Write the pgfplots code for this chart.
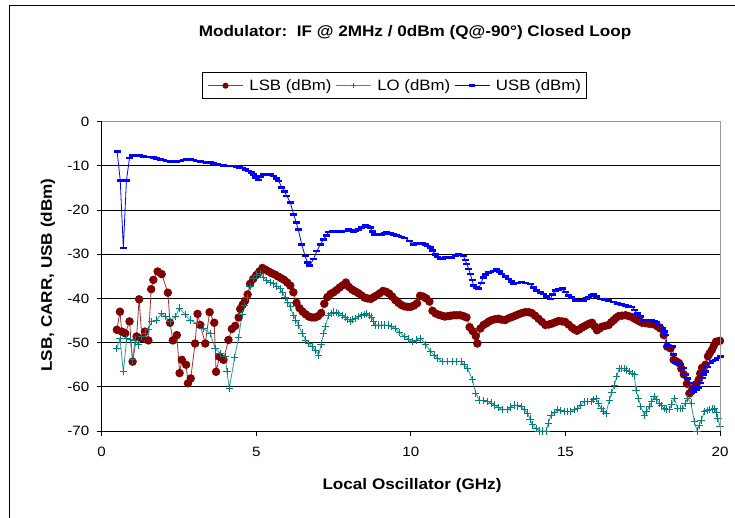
\documentclass[border=0pt]{standalone}
\usepackage{pgfplots}
\pgfplotsset{compat=1.18}
\usepackage{fontspec}
\setmainfont[FakeStretch=1.12]{Liberation Sans}
\definecolor{lsb}{RGB}{128,0,0}
\definecolor{lsbline}{RGB}{160,48,48}
\definecolor{lo}{RGB}{0,128,128}
\definecolor{loline}{RGB}{50,150,150}
\definecolor{usb}{RGB}{0,0,255}
\definecolor{pframe}{RGB}{150,150,150}

\pgfplotstableread{
x y
0.49 -47.1
0.59 -43.0
0.65 -47.5
0.76 -47.9
0.90 -45.2
1.00 -54.3
1.13 -48.6
1.21 -40.2
1.30 -49.0
1.40 -47.5
1.51 -49.5
1.60 -37.9
1.67 -35.8
1.81 -33.9
1.94 -34.5
2.14 -38.7
2.21 -45.5
2.30 -49.5
2.43 -48.3
2.52 -56.9
2.59 -53.9
2.73 -55.0
2.79 -59.2
2.88 -58.1
3.02 -50.2
3.10 -43.5
3.19 -46.0
3.35 -50.2
3.49 -43.1
3.64 -45.5
3.70 -56.6
3.81 -53.2
3.94 -53.9
4.10 -49.4
4.21 -46.9
4.32 -46.2
4.43 -44.3
4.48 -42.4
4.56 -41.4
4.64 -40.5
4.72 -39.1
4.80 -36.7
4.90 -35.6
5.00 -34.7
5.10 -33.9
5.20 -33.1
5.30 -33.5
5.40 -33.9
5.50 -34.3
5.60 -34.6
5.70 -35.0
5.80 -35.4
5.90 -35.8
6.00 -36.4
6.10 -37.1
6.20 -38.6
6.30 -41.0
6.40 -42.2
6.50 -43.0
6.60 -43.6
6.70 -44.1
6.80 -44.3
6.90 -44.3
7.00 -44.0
7.10 -43.3
7.20 -41.2
7.30 -39.7
7.40 -39.0
7.50 -38.6
7.60 -38.1
7.70 -37.5
7.80 -37.0
7.90 -36.4
8.00 -37.4
8.10 -38.0
8.20 -38.4
8.30 -38.8
8.40 -39.3
8.50 -39.8
8.60 -40.0
8.70 -40.1
8.80 -39.7
8.90 -39.3
9.00 -38.8
9.10 -38.3
9.20 -38.5
9.30 -38.9
9.40 -39.6
9.50 -40.4
9.60 -41.0
9.70 -41.5
9.80 -41.8
9.90 -41.9
10.00 -41.9
10.10 -41.6
10.20 -41.1
10.30 -39.4
10.40 -39.6
10.50 -40.0
10.60 -40.7
10.70 -42.8
10.80 -43.4
10.90 -43.7
11.00 -43.9
11.10 -44.1
11.20 -44.0
11.30 -43.9
11.40 -43.8
11.50 -43.8
11.60 -43.8
11.70 -44.0
11.80 -44.3
11.90 -46.5
12.00 -47.4
12.10 -48.5
12.15 -50.2
12.25 -46.8
12.35 -46.0
12.45 -45.6
12.53 -45.2
12.62 -44.9
12.72 -44.7
12.83 -44.6
12.94 -44.8
13.05 -44.9
13.16 -44.5
13.27 -44.2
13.38 -43.9
13.48 -43.6
13.59 -43.3
13.70 -43.1
13.81 -43.1
13.91 -43.3
14.02 -43.9
14.13 -44.6
14.24 -45.3
14.35 -46.0
14.46 -45.9
14.56 -45.7
14.67 -45.4
14.78 -45.1
14.89 -45.2
14.99 -45.3
15.10 -45.9
15.21 -46.6
15.29 -47.0
15.37 -47.3
15.45 -47.0
15.53 -46.6
15.61 -46.3
15.69 -46.0
15.78 -45.7
15.86 -45.5
15.94 -46.3
16.02 -47.2
16.10 -46.8
16.18 -46.4
16.29 -46.2
16.40 -46.0
16.48 -45.4
16.56 -44.9
16.64 -44.4
16.72 -44.0
16.83 -43.9
16.94 -43.8
17.05 -44.0
17.15 -44.2
17.24 -44.6
17.32 -44.9
17.40 -45.2
17.48 -45.5
17.59 -45.6
17.69 -45.7
17.80 -45.8
17.91 -46.0
17.99 -46.4
18.07 -46.8
18.18 -48.3
18.29 -50.9
18.40 -51.3
18.50 -53.9
18.58 -54.2
18.67 -54.6
18.75 -55.9
18.83 -57.2
18.93 -59.3
19.01 -61.5
19.08 -61.0
19.15 -60.4
19.23 -59.4
19.31 -58.4
19.36 -57.0
19.42 -55.7
19.53 -55.0
19.61 -53.1
19.67 -52.4
19.74 -51.6
19.80 -50.7
19.87 -49.8
19.94 -49.7
20.00 -49.6
}\lsbdata

\pgfplotstableread{
x y
0.49 -51.3
0.59 -49.0
0.70 -56.6
0.81 -49.0
0.92 -49.2
1.00 -53.9
1.08 -49.4
1.19 -50.5
1.30 -48.6
1.40 -47.9
1.51 -47.0
1.62 -45.2
1.78 -44.9
1.94 -43.4
2.05 -44.1
2.21 -45.2
2.38 -44.1
2.52 -42.2
2.70 -43.7
2.86 -44.9
3.08 -45.6
3.29 -46.8
3.51 -47.9
3.67 -51.3
3.83 -52.4
4.00 -53.2
4.05 -56.6
4.13 -60.3
4.30 -53.3
4.43 -48.8
4.54 -43.5
4.62 -41.6
4.70 -39.8
4.80 -37.3
4.90 -35.5
5.02 -34.7
5.12 -34.3
5.23 -35.2
5.34 -36.0
5.45 -36.4
5.55 -36.7
5.66 -37.2
5.77 -37.8
5.85 -38.7
5.93 -39.7
6.02 -40.8
6.10 -41.9
6.20 -43.8
6.28 -44.9
6.36 -46.0
6.48 -47.8
6.59 -49.4
6.70 -50.2
6.81 -50.9
6.92 -51.8
7.02 -52.8
7.10 -50.3
7.18 -47.9
7.23 -46.4
7.34 -43.8
7.42 -43.4
7.50 -43.1
7.58 -43.2
7.66 -43.4
7.77 -43.8
7.87 -44.2
7.96 -44.7
8.04 -45.1
8.12 -44.8
8.20 -44.6
8.31 -44.1
8.41 -43.8
8.49 -43.6
8.57 -43.4
8.65 -43.8
8.73 -44.2
8.79 -45.1
8.84 -46.0
8.95 -46.0
9.06 -46.0
9.16 -46.0
9.27 -46.0
9.38 -46.4
9.49 -46.8
9.64 -47.7
9.78 -48.6
9.92 -49.2
10.05 -49.8
10.18 -49.4
10.32 -49.0
10.48 -50.5
10.64 -52.0
10.75 -52.8
10.86 -53.5
11.02 -54.3
11.18 -54.3
11.34 -54.3
11.48 -54.3
11.62 -54.3
11.72 -55.0
11.83 -55.8
11.99 -58.4
12.10 -61.5
12.21 -63.0
12.34 -63.1
12.48 -63.3
12.59 -63.7
12.70 -64.1
12.84 -64.7
12.97 -65.2
13.12 -65.2
13.23 -64.6
13.34 -64.1
13.45 -64.3
13.56 -64.5
13.67 -65.2
13.77 -66.0
13.86 -67.3
13.93 -68.6
14.05 -69.4
14.15 -70.0
14.26 -70.0
14.37 -70.0
14.45 -68.2
14.53 -66.4
14.64 -65.8
14.74 -65.2
14.85 -65.4
14.96 -65.6
15.07 -65.6
15.17 -65.6
15.28 -65.2
15.39 -64.9
15.50 -64.1
15.61 -63.3
15.72 -63.3
15.83 -63.3
15.91 -62.9
15.99 -62.6
16.07 -63.8
16.15 -64.9
16.23 -65.5
16.31 -66.0
16.42 -63.0
16.50 -61.3
16.58 -59.6
16.66 -57.7
16.74 -55.8
16.82 -55.8
16.90 -55.8
16.98 -56.2
17.07 -56.6
17.15 -57.0
17.23 -57.3
17.28 -60.7
17.36 -62.6
17.44 -64.5
17.55 -66.4
17.63 -65.5
17.71 -64.5
17.79 -63.4
17.87 -62.2
17.95 -62.9
18.04 -63.7
18.12 -64.3
18.20 -64.9
18.28 -65.0
18.36 -65.2
18.44 -63.9
18.52 -62.6
18.63 -64.9
18.71 -64.9
18.79 -64.9
18.87 -63.8
18.95 -62.6
19.06 -63.7
19.17 -67.9
19.26 -70.0
19.32 -68.8
19.39 -67.5
19.50 -65.6
19.58 -65.4
19.66 -65.2
19.74 -65.0
19.82 -64.9
19.88 -65.9
19.93 -67.1
20.00 -69.0
}\lodata

\pgfplotstableread{
x y
0.50 -6.8
0.60 -13.3
0.70 -28.6
0.80 -13.3
0.90 -8.2
1.00 -7.7
1.12 -7.6
1.23 -7.7
1.35 -7.9
1.51 -8.0
1.67 -8.1
1.78 -8.3
1.89 -8.5
2.00 -8.7
2.10 -8.9
2.21 -9.0
2.32 -9.0
2.43 -9.0
2.54 -8.9
2.65 -8.7
2.75 -8.5
2.86 -8.6
2.97 -8.7
3.08 -8.9
3.18 -9.0
3.29 -9.1
3.40 -9.2
3.51 -9.3
3.62 -9.4
3.73 -9.6
3.83 -9.8
3.94 -9.9
4.05 -10.0
4.16 -10.0
4.27 -10.0
4.36 -10.1
4.45 -10.3
4.55 -10.5
4.64 -10.8
4.75 -11.2
4.83 -11.5
4.91 -11.9
4.99 -12.6
5.07 -13.2
5.15 -12.4
5.24 -11.9
5.35 -11.9
5.45 -12.0
5.55 -12.3
5.64 -12.8
5.72 -13.4
5.83 -14.9
5.91 -15.8
5.99 -16.8
6.10 -18.3
6.21 -21.0
6.29 -22.8
6.36 -24.4
6.47 -27.8
6.58 -30.4
6.65 -31.8
6.72 -32.6
6.85 -31.1
6.96 -29.3
7.07 -27.8
7.18 -26.6
7.26 -25.8
7.34 -25.0
7.45 -24.9
7.55 -24.8
7.66 -24.9
7.77 -25.0
7.88 -24.7
7.98 -24.4
8.06 -24.6
8.14 -24.8
8.22 -24.6
8.30 -24.4
8.41 -23.9
8.52 -23.5
8.60 -23.7
8.68 -24.0
8.76 -24.8
8.84 -25.5
8.95 -25.5
9.06 -25.5
9.14 -25.3
9.22 -25.1
9.33 -25.3
9.44 -25.5
9.52 -25.7
9.60 -25.9
9.70 -26.1
9.81 -26.3
9.95 -27.0
10.08 -27.8
10.19 -27.6
10.30 -27.5
10.38 -27.6
10.46 -27.8
10.54 -28.1
10.62 -28.5
10.70 -29.2
10.79 -30.0
10.87 -30.6
10.95 -31.1
11.03 -30.9
11.11 -30.7
11.22 -30.7
11.33 -30.7
11.43 -30.3
11.54 -30.0
11.62 -30.2
11.70 -30.4
11.76 -31.3
11.81 -32.2
11.87 -33.3
11.92 -34.5
11.98 -35.8
12.03 -37.1
12.11 -37.5
12.19 -37.8
12.27 -36.5
12.35 -35.2
12.43 -34.6
12.51 -34.1
12.59 -34.0
12.67 -33.8
12.78 -33.4
12.86 -33.9
12.94 -34.5
13.05 -35.0
13.16 -35.6
13.24 -36.1
13.32 -36.7
13.45 -36.5
13.59 -36.3
13.72 -36.5
13.86 -36.7
13.97 -37.5
14.07 -38.2
14.18 -38.6
14.29 -39.0
14.40 -39.5
14.51 -40.1
14.59 -39.1
14.67 -38.2
14.78 -38.0
14.89 -37.8
15.00 -38.5
15.10 -39.3
15.21 -39.8
15.32 -40.4
15.45 -40.4
15.59 -40.4
15.67 -40.0
15.75 -39.7
15.83 -39.3
15.91 -39.0
16.02 -39.5
16.13 -40.1
16.27 -40.2
16.40 -40.4
16.54 -40.8
16.67 -41.2
16.80 -41.4
16.94 -41.6
17.05 -41.8
17.15 -41.9
17.24 -42.6
17.32 -43.4
17.43 -44.1
17.53 -44.9
17.67 -44.9
17.80 -44.9
17.88 -45.1
17.96 -45.3
18.05 -46.0
18.13 -46.8
18.19 -47.5
18.24 -48.3
18.29 -50.7
18.37 -50.8
18.45 -50.9
18.50 -52.7
18.56 -54.6
18.64 -54.8
18.72 -55.0
18.83 -55.7
18.88 -57.2
18.96 -58.1
19.04 -59.1
19.10 -60.0
19.15 -61.0
19.23 -60.6
19.31 -60.2
19.37 -59.1
19.42 -58.0
19.48 -57.2
19.53 -56.5
19.61 -55.5
19.69 -54.6
19.77 -54.2
19.85 -53.9
19.93 -53.5
20.00 -53.1
}\usbdata

\begin{document}
\begin{tikzpicture}[x=1pt,y=1pt]
\begin{axis}[
  at={(0,0)}, anchor=south west, scale only axis,
  width=618.3pt, height=309.3pt,
  xmin=0, xmax=20, ymin=-70, ymax=0,
  xtick={0,5,10,15,20}, ytick={-70,-60,...,0},
  tick align=outside, major tick length=5pt,
  axis x line*=bottom, axis y line*=left,
  axis line style={black, line width=0.9pt},
  tick style={black, line width=0.9pt},
  ymajorgrids, grid style={black, line width=0.9pt},
  /pgf/number format/assume math mode=true,
  ticklabel style={font=\fontsize{13.5}{16}\selectfont},
  xticklabel style={yshift=-8pt},
  yticklabel style={xshift=-4pt},
  clip=false,
  legend columns=3,
  legend style={at={(0.474,1.1164)}, anchor=center, draw=black, line width=0.9pt,
    font=\fontsize{15}{17}\selectfont, inner xsep=4pt, inner ysep=5pt,
    /tikz/every even column/.append style={column sep=1pt}},
  legend image code/.code={\draw[#1, line width=0.8pt, mark repeat=2, mark phase=2, mark size=2.6pt] plot coordinates {(0pt,0pt) (17.5pt,0pt) (35pt,0pt)};
    \path (-1pt,0pt) (39pt,0pt);},
]
\addplot[color=lsbline, line width=0.8pt, mark=*, mark size=3.8pt, mark options={fill=lsb, draw=lsb, solid}] table {\lsbdata};
\addlegendentry{LSB (dBm)}
\addplot[color=loline, line width=0.8pt, mark=+, mark size=3.7pt, mark options={draw=lo, line width=0.8pt, solid}] table {\lodata};
\addlegendentry{LO (dBm)}
\addplot[color=usb, line width=0.8pt, mark=-, mark size=3.5pt, mark options={line width=2.6pt, solid}] table {\usbdata};
\addlegendentry{USB (dBm)}
\end{axis}
\draw[pframe, line width=0.9pt] (0,309.3) -- (618.3,309.3) -- (618.3,0);
\node[font=\bfseries\fontsize{15.3}{18}\selectfont] at (313.3,398.7) {Modulator:\ \ IF @ 2MHz / 0dBm (Q@-90°) Closed Loop};
\node[font=\bfseries\fontsize{15.3}{18}\selectfont] at (310.3,-55) {Local Oscillator (GHz)};
\node[font=\bfseries\fontsize{15.3}{18}\selectfont, rotate=90] at (-53.7,156) {LSB, CARR, USB (dBm)};
\draw[black, line width=1pt] (-91.7,-87) -- (-91.7,425) -- (633.3,425);
\pgfresetboundingbox
\useasboundingbox (-101.7,-87) rectangle (633.3,431);
\end{tikzpicture}
\end{document}
